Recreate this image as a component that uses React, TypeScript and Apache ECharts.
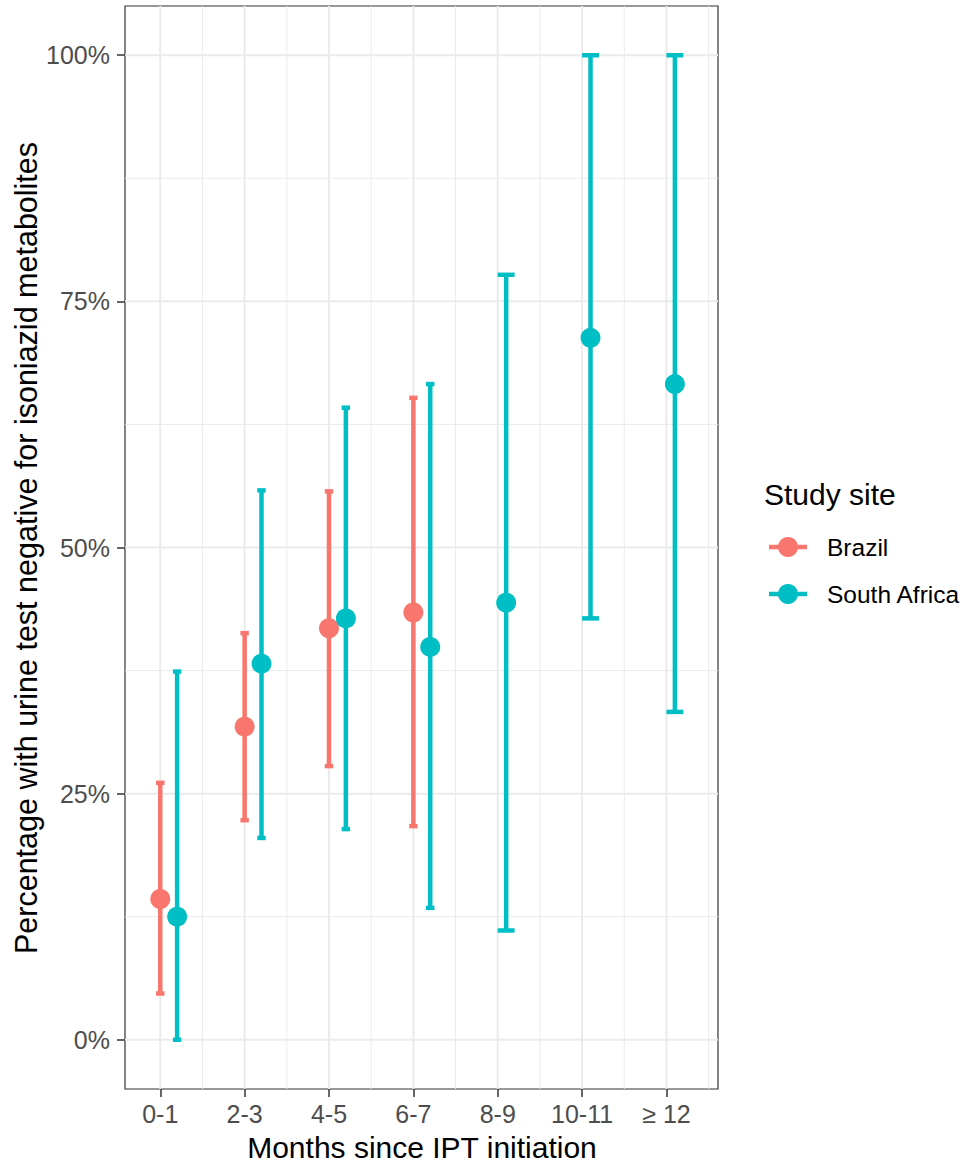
import React, { useEffect, useRef } from "react";
import * as echarts from "echarts";

const categories = ["0-1", "2-3", "4-5", "6-7", "8-9", "10-11", "≥ 12"];
const brazilEst = [14.3, 31.8, 41.8, 43.4, null, null, null];
const brazilLow = [4.7, 22.3, 27.8, 21.7, null, null, null];
const brazilHigh = [26.1, 41.3, 55.7, 65.2, null, null, null];
const saEst = [12.5, 38.2, 42.8, 39.9, 44.4, 71.3, 66.6];
const saLow = [0, 20.5, 21.4, 13.4, 11.1, 42.8, 33.3];
const saHigh = [37.4, 55.8, 64.2, 66.6, 77.7, 100, 100];
const yTicks = [0, 25, 50, 75, 100];
const yMinor = [12.5, 37.5, 62.5, 87.5];

const BRAZIL = "#F8766D";
const SA = "#00BFC4";
const FONT = "Liberation Sans, Arial, Helvetica, sans-serif";

export default function App() {
  const ref = useRef<HTMLDivElement>(null);
  useEffect(() => {
    if (!ref.current) return;
    const chart = echarts.init(ref.current, undefined, { renderer: "svg" });
    const xTicks = categories.map((_, i) => i + 1);
    const xMinor = categories.map((_, i) => i + 1.5);

    // dodge: groups centred at tick + 0.1, dodge width 0.2
    const brazilPts: any[] = [];
    const saPts: any[] = [];
    const brazilBars: any[] = [];
    const saBars: any[] = [];
    categories.forEach((_, i) => {
      const center = i + 1 + 0.1;
      const paired = brazilEst[i] != null;
      if (paired) {
        const bx = center - 0.1;
        brazilPts.push([bx, brazilEst[i]]);
        brazilBars.push([bx, brazilLow[i], brazilHigh[i], 0.05]);
      }
      const sx = paired ? center + 0.1 : center;
      saPts.push([sx, saEst[i]]);
      saBars.push([sx, saLow[i], saHigh[i], paired ? 0.05 : 0.1]);
    });

    const gridData: any[] = [];
    xTicks.forEach((v) => gridData.push([0, v, 1]));
    xMinor.forEach((v) => gridData.push([0, v, 0]));
    yTicks.forEach((v) => gridData.push([1, v, 1]));
    yMinor.forEach((v) => gridData.push([1, v, 0]));

    const errRender = (color: string) => (params: any, api: any) => {
      const x = api.value(0);
      const lo = api.value(1);
      const hi = api.value(2);
      const hw = api.value(3);
      const pLo = api.coord([x, lo]);
      const pHi = api.coord([x, hi]);
      const l = api.coord([x - hw, hi])[0];
      const r = api.coord([x + hw, hi])[0];
      const style = { stroke: color, lineWidth: 4.5, lineCap: "butt" };
      return {
        type: "group",
        children: [
          { type: "line", shape: { x1: pLo[0], y1: pLo[1], x2: pHi[0], y2: pHi[1] }, style },
          { type: "line", shape: { x1: l, y1: pHi[1], x2: r, y2: pHi[1] }, style },
          { type: "line", shape: { x1: l, y1: pLo[1], x2: r, y2: pLo[1] }, style },
        ],
      };
    };

    const option: any = {
      animation: false,
      backgroundColor: "#ffffff",
      grid: {
        left: 125,
        top: 6,
        right: 248,
        bottom: 78,
        show: true,
        borderColor: "#333333",
        borderWidth: 1.2,
        backgroundColor: "#ffffff",
        z: 0,
      },
      xAxis: {
        type: "value",
        min: 0.582,
        max: 7.611,
        axisLine: { show: false, onZero: false },
        splitLine: { show: false },
        axisTick: {
          show: true,
          customValues: xTicks,
          length: 8,
          lineStyle: { color: "#333333", width: 1.5 },
        },
        axisLabel: {
          customValues: xTicks,
          formatter: (v: number) => categories[Math.round(v) - 1] ?? "",
          fontSize: 25,
          color: "#4d4d4d",
          fontFamily: FONT,
          margin: 12,
        },
      },
      yAxis: {
        type: "value",
        min: -5,
        max: 105,
        axisLine: { show: false, onZero: false },
        splitLine: { show: false },
        axisTick: {
          show: true,
          customValues: yTicks,
          length: 8,
          lineStyle: { color: "#333333", width: 1.5 },
        },
        axisLabel: {
          customValues: yTicks,
          formatter: (v: number) => `${v}%`,
          fontSize: 25,
          color: "#4d4d4d",
          fontFamily: FONT,
          margin: 15,
        },
      },
      series: [
        {
          type: "custom",
          name: "grid",
          silent: true,
          z: 1,
          data: gridData,
          renderItem: (params: any, api: any) => {
            const isY = api.value(0) === 1;
            const v = api.value(1);
            const major = api.value(2) === 1;
            const cs = params.coordSys;
            const style = { stroke: "#ebebeb", lineWidth: major ? 2 : 1 };
            if (isY) {
              const y = api.coord([1, v])[1];
              return { type: "line", shape: { x1: cs.x, y1: y, x2: cs.x + cs.width, y2: y }, style };
            }
            const x = api.coord([v, 0])[0];
            return { type: "line", shape: { x1: x, y1: cs.y, x2: x, y2: cs.y + cs.height }, style };
          },
        },
        {
          type: "custom",
          name: "Brazil CI",
          z: 3,
          data: brazilBars,
          renderItem: errRender(BRAZIL),
        },
        {
          type: "custom",
          name: "South Africa CI",
          z: 3,
          data: saBars,
          renderItem: errRender(SA),
        },
        {
          type: "scatter",
          name: "Brazil",
          z: 4,
          symbol: "circle",
          symbolSize: 20,
          itemStyle: { color: BRAZIL, opacity: 1 },
          data: brazilPts,
        },
        {
          type: "scatter",
          name: "South Africa",
          z: 4,
          symbol: "circle",
          symbolSize: 20,
          itemStyle: { color: SA, opacity: 1 },
          data: saPts,
        },
      ],
      graphic: [
        {
          type: "text",
          x: 422,
          y: 1147,
          style: {
            text: "Months since IPT initiation",
            fontSize: 30,
            fontFamily: FONT,
            fill: "#000000",
            textAlign: "center",
            textVerticalAlign: "middle",
          },
        },
        {
          type: "text",
          x: 26,
          y: 548,
          rotation: Math.PI / 2,
          style: {
            text: "Percentage with urine test negative for isoniazid metabolites",
            fontSize: 30.5,
            fontFamily: FONT,
            fill: "#000000",
            textAlign: "center",
            textVerticalAlign: "middle",
          },
        },
        {
          type: "text",
          x: 764,
          y: 494,
          style: {
            text: "Study site",
            fontSize: 30,
            fontFamily: FONT,
            fill: "#000000",
            textAlign: "left",
            textVerticalAlign: "middle",
          },
        },
        { type: "line", shape: { x1: 769, y1: 547, x2: 807, y2: 547 }, style: { stroke: BRAZIL, lineWidth: 4.5 } },
        { type: "circle", shape: { cx: 788, cy: 547, r: 10 }, style: { fill: BRAZIL } },
        {
          type: "text",
          x: 827,
          y: 547,
          style: { text: "Brazil", fontSize: 24.5, fontFamily: FONT, fill: "#000000", textAlign: "left", textVerticalAlign: "middle" },
        },
        { type: "line", shape: { x1: 769, y1: 594, x2: 807, y2: 594 }, style: { stroke: SA, lineWidth: 4.5 } },
        { type: "circle", shape: { cx: 788, cy: 594, r: 10 }, style: { fill: SA } },
        {
          type: "text",
          x: 827,
          y: 594,
          style: { text: "South Africa", fontSize: 24.5, fontFamily: FONT, fill: "#000000", textAlign: "left", textVerticalAlign: "middle" },
        },
      ],
    };
    chart.setOption(option);
    return () => chart.dispose();
  }, []);
  return (
    <div
      ref={ref}
      style={{ position: "absolute", left: 0, top: 0, width: 966, height: 1167, background: "#fff" }}
    />
  );
}
